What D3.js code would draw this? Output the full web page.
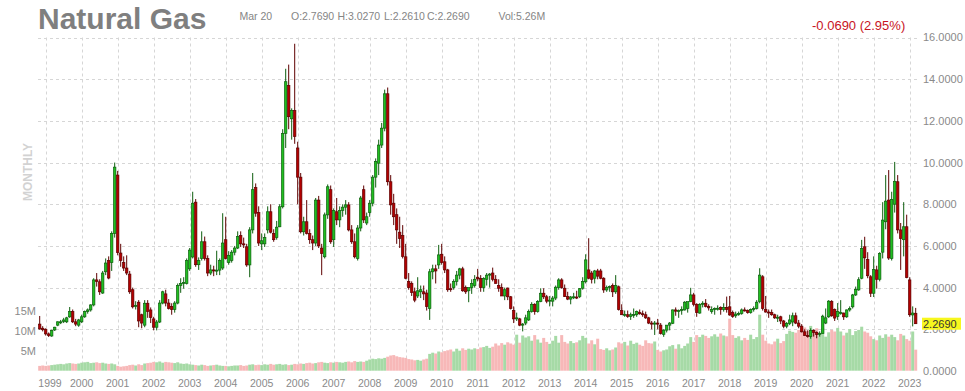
<!DOCTYPE html>
<html>
<head>
<meta charset="utf-8">
<script src="https://cdn.jsdelivr.net/npm/d3@7"></script>
<style>
  html, body { margin: 0; padding: 0; background: #fff; }
  svg text { font-family: "Liberation Sans", Arial, sans-serif; }
</style>
</head>
<body>
<div id="chart"></div>
<script>

// monthly candles, first one is Nov 1998
var startYear = 1998, startMonth = 10;

var opens = [
  2.25, 2.05,
  2.00, 1.78, 1.68, 1.97, 2.20, 2.34, 2.38, 2.36, 2.60, 2.85, 2.36, 2.20,
  2.36, 2.60, 2.85, 2.93, 3.17, 4.37, 4.28, 3.74, 4.76, 5.30, 5.20, 6.60,
  9.40, 5.66, 5.20, 4.94, 4.65, 3.90, 3.10, 3.30, 2.70, 2.20, 3.25, 2.93,
  2.50, 2.10, 2.35, 3.26, 3.70, 3.26, 3.10, 2.95, 3.26, 4.10, 4.20, 4.20,
  4.90, 5.47, 8.10, 5.10, 5.40, 6.20, 5.40, 4.70, 4.85, 4.80, 4.84, 4.94,
  6.30, 5.20, 5.30, 5.70, 5.90, 6.50, 6.10, 5.96, 5.09, 6.77, 8.80, 7.60,
  6.10, 6.10, 6.77, 7.64, 6.60, 6.40, 6.92, 7.88, 11.40, 13.70, 12.10, 12.50,
  10.70, 9.30, 6.68, 7.16, 6.60, 6.30, 6.14, 8.20, 5.90, 5.48, 7.49, 8.70,
  6.30, 7.64, 7.25, 7.70, 7.86, 7.97, 6.77, 6.20, 5.40, 6.86, 8.70, 7.10,
  7.60, 8.05, 9.30, 9.97, 10.84, 11.65, 13.30, 9.08, 8.05, 7.50, 6.66, 6.50,
  5.48, 4.30, 4.20, 3.80, 3.60, 3.80, 3.80, 3.74, 3.00, 4.76, 4.90, 5.09,
  5.60, 5.24, 4.85, 3.95, 4.00, 4.30, 4.60, 4.90, 4.00, 3.85, 4.00, 4.10,
  4.50, 4.44, 4.00, 4.40, 4.60, 4.70, 4.40, 4.10, 4.00, 3.60, 3.98, 3.56,
  2.90, 2.50, 2.50, 2.20, 2.30, 2.45, 2.85, 3.20, 2.85, 3.33, 3.73, 3.56,
  3.35, 3.35, 3.50, 4.00, 4.37, 3.97, 3.57, 3.45, 3.55, 3.55, 3.57, 3.97,
  4.28, 4.85, 4.70, 4.45, 4.80, 4.80, 4.45, 3.89, 4.00, 4.10, 3.80, 4.04,
  2.90, 2.70, 2.70, 2.62, 2.70, 2.70, 2.80, 2.75, 2.70, 2.55, 2.30, 2.25,
  2.30, 2.20, 1.76, 1.96, 2.20, 2.29, 2.93, 2.87, 2.90, 2.93, 3.00, 3.33,
  3.65, 3.20, 2.78, 3.20, 3.25, 3.10, 2.85, 2.95, 3.00, 3.05, 2.95, 3.05,
  3.08, 2.80, 2.65, 2.73, 2.76, 2.93, 2.90, 2.80, 2.95, 3.00, 3.33, 4.52,
  2.95, 2.83, 2.80, 2.70, 2.55, 2.60, 2.40, 2.15, 2.28, 2.35, 2.65, 2.30,
  2.15, 1.88, 1.70, 1.65, 1.95, 1.85, 1.75, 1.80, 2.30, 2.60, 3.33, 2.95,
  2.62, 2.78, 2.78, 2.60, 2.93, 3.08, 3.65, 3.89, 4.45, 5.96, 5.35, 4.52,
  3.73, 4.85, 4.40, 5.70, 7.16, 8.20, 5.40, 8.00, 9.08, 6.77, 6.30, 6.92,
  4.37, 2.69, 2.769
];

var highs = [
  2.64, 2.15,
  2.05, 1.85, 1.98, 2.12, 2.38, 2.45, 2.55, 2.60, 3.07, 2.95, 2.50, 2.50,
  2.70, 2.90, 3.00, 3.20, 4.45, 4.70, 4.40, 4.80, 5.40, 5.50, 6.70, 10.00,
  9.60, 6.10, 5.50, 5.55, 4.80, 4.00, 3.35, 3.40, 2.75, 3.40, 3.40, 3.05,
  2.60, 2.45, 3.40, 3.85, 3.90, 3.45, 3.25, 3.35, 4.20, 4.45, 4.50, 5.40,
  5.90, 8.60, 8.25, 5.45, 6.70, 6.45, 5.55, 5.10, 5.05, 5.77, 5.40, 7.57,
  7.40, 5.75, 5.80, 6.00, 6.70, 6.70, 6.40, 6.10, 6.90, 9.50, 9.00, 7.90,
  6.60, 6.60, 7.90, 8.00, 6.80, 7.20, 8.00, 11.60, 14.50, 14.70, 12.60, 15.70,
  11.00, 9.50, 7.40, 8.20, 6.80, 6.50, 8.30, 8.40, 6.10, 7.60, 8.95, 8.90,
  7.80, 8.30, 7.90, 8.00, 8.20, 8.10, 7.00, 6.60, 7.00, 8.40, 8.90, 7.60,
  8.20, 9.40, 10.20, 11.10, 11.90, 13.50, 13.60, 9.40, 8.50, 7.80, 7.40, 7.00,
  6.10, 4.70, 4.30, 4.00, 4.50, 4.10, 4.10, 3.90, 4.90, 5.10, 5.10, 6.05,
  6.10, 5.50, 4.90, 4.20, 4.40, 4.80, 4.95, 5.00, 4.10, 4.00, 4.40, 4.60,
  4.90, 4.60, 4.50, 4.70, 4.70, 4.96, 4.60, 4.40, 4.20, 4.00, 4.00, 3.60,
  3.10, 2.80, 2.55, 2.30, 2.70, 2.95, 3.30, 3.25, 3.40, 3.97, 3.97, 3.65,
  3.60, 3.60, 4.10, 4.45, 4.45, 4.15, 3.80, 3.60, 3.75, 3.85, 3.97, 4.50,
  5.60, 6.37, 4.80, 4.85, 4.90, 4.90, 4.50, 4.10, 4.10, 4.20, 4.60, 4.10,
  3.20, 2.90, 2.90, 2.80, 3.00, 2.90, 2.95, 2.90, 2.85, 2.60, 2.40, 2.40,
  2.50, 2.30, 2.00, 2.20, 2.35, 2.95, 3.05, 2.95, 3.10, 3.35, 3.30, 3.99,
  3.75, 3.25, 3.25, 3.35, 3.45, 3.20, 3.10, 3.05, 3.15, 3.10, 3.25, 3.57,
  3.60, 2.90, 2.85, 2.85, 3.00, 3.05, 2.95, 3.00, 3.10, 3.40, 4.93, 4.60,
  3.60, 2.95, 2.95, 2.75, 2.70, 2.65, 2.45, 2.35, 2.70, 2.80, 2.80, 2.45,
  2.25, 2.00, 1.95, 2.05, 2.00, 1.90, 1.90, 2.70, 3.00, 3.40, 3.40, 3.00,
  3.26, 3.40, 2.80, 2.95, 3.10, 3.70, 4.05, 4.50, 6.29, 6.44, 5.70, 4.60,
  5.50, 5.05, 5.70, 8.10, 9.40, 9.64, 8.60, 10.03, 9.40, 7.10, 8.10, 7.50,
  4.50, 3.10, 3.027
];

var lows = [
  1.98, 1.90,
  1.70, 1.63, 1.64, 1.92, 2.15, 2.25, 2.30, 2.30, 2.55, 2.30, 2.15, 2.12,
  2.30, 2.55, 2.75, 2.85, 3.10, 4.05, 3.65, 3.70, 4.60, 4.40, 4.80, 6.40,
  5.55, 5.00, 4.80, 4.60, 3.70, 3.00, 2.95, 2.10, 2.05, 2.10, 2.55, 2.30,
  1.95, 1.95, 2.30, 3.20, 3.10, 2.95, 2.70, 2.80, 3.20, 3.75, 3.95, 4.15,
  4.80, 5.40, 5.00, 4.85, 5.30, 5.30, 4.55, 4.60, 4.55, 4.60, 4.60, 4.85,
  5.35, 5.10, 5.20, 5.55, 5.85, 5.95, 5.90, 5.00, 4.50, 6.60, 7.40, 6.00,
  5.80, 5.95, 6.60, 6.60, 6.20, 6.30, 6.90, 7.80, 10.70, 11.60, 11.10, 10.90,
  8.00, 6.60, 6.50, 6.55, 6.10, 5.80, 6.00, 5.90, 4.60, 5.40, 7.30, 6.10,
  5.95, 7.00, 6.90, 7.40, 7.50, 6.70, 6.10, 5.40, 5.30, 6.70, 7.10, 7.00,
  7.40, 7.90, 8.80, 9.40, 10.70, 11.50, 8.90, 7.50, 7.00, 6.10, 5.90, 5.40,
  4.40, 3.90, 3.60, 3.30, 3.50, 3.50, 3.40, 2.90, 2.45, 4.40, 4.20, 4.90,
  5.10, 4.70, 3.80, 3.80, 3.90, 4.10, 4.40, 3.80, 3.70, 3.30, 3.70, 4.00,
  4.30, 3.80, 3.80, 4.10, 4.00, 4.30, 4.20, 3.80, 3.60, 3.40, 3.40, 2.95,
  2.30, 2.40, 2.15, 1.90, 2.20, 2.40, 2.80, 2.70, 2.80, 3.30, 3.45, 3.25,
  3.10, 3.10, 3.40, 3.90, 3.95, 3.55, 3.40, 3.20, 3.45, 3.45, 3.50, 3.90,
  4.20, 4.40, 4.20, 4.20, 4.40, 4.40, 3.75, 3.80, 3.80, 3.55, 3.70, 2.90,
  2.70, 2.60, 2.55, 2.45, 2.55, 2.60, 2.70, 2.60, 2.50, 2.25, 2.00, 1.73,
  2.00, 1.75, 1.64, 1.85, 1.95, 2.25, 2.65, 2.55, 2.70, 2.90, 2.80, 3.30,
  3.10, 2.60, 2.75, 3.05, 3.05, 2.90, 2.75, 2.70, 2.90, 2.70, 2.85, 2.80,
  2.65, 2.55, 2.55, 2.65, 2.70, 2.85, 2.75, 2.75, 2.85, 2.95, 3.25, 2.90,
  2.80, 2.55, 2.65, 2.50, 2.35, 2.25, 2.05, 2.05, 2.20, 2.15, 2.25, 2.05,
  1.85, 1.70, 1.60, 1.55, 1.65, 1.57, 1.65, 1.80, 2.25, 2.55, 2.60, 2.40,
  2.45, 2.70, 2.45, 2.55, 2.85, 3.00, 3.60, 3.85, 4.40, 4.90, 4.45, 3.55,
  3.55, 3.95, 4.30, 5.40, 6.80, 5.33, 5.30, 7.60, 6.60, 4.85, 5.50, 4.45,
  2.60, 2.14, 2.261
];

var closes = [
  2.02, 1.98,
  1.78, 1.70, 1.95, 2.10, 2.36, 2.36, 2.45, 2.55, 2.85, 2.36, 2.25, 2.45,
  2.60, 2.85, 2.93, 3.17, 4.37, 4.30, 3.80, 4.70, 5.18, 4.46, 6.60, 9.78,
  5.68, 5.30, 4.94, 4.70, 3.80, 3.08, 3.15, 2.40, 2.30, 3.25, 2.86, 2.57,
  2.10, 2.35, 3.26, 3.80, 3.26, 3.00, 2.95, 3.26, 4.10, 4.20, 4.25, 5.30,
  5.80, 8.05, 5.10, 5.30, 6.20, 5.40, 4.70, 4.85, 4.80, 4.84, 5.30, 6.14,
  5.40, 5.55, 5.70, 5.90, 6.45, 6.10, 6.05, 5.09, 6.77, 8.70, 7.57, 6.14,
  6.25, 6.40, 7.64, 6.66, 6.30, 6.90, 7.88, 11.40, 13.88, 12.20, 12.50, 11.25,
  9.30, 6.68, 7.16, 6.60, 6.30, 6.14, 8.20, 6.00, 5.64, 7.49, 8.84, 6.20,
  7.70, 7.25, 7.70, 7.86, 7.97, 6.77, 6.20, 5.48, 6.86, 8.30, 7.25, 7.40,
  8.05, 9.30, 10.05, 10.84, 11.65, 13.30, 9.08, 7.97, 7.40, 6.77, 6.36, 5.50,
  4.45, 4.00, 3.76, 3.40, 3.85, 3.90, 3.70, 3.09, 4.76, 4.90, 4.80, 5.57,
  5.20, 4.85, 3.90, 3.92, 4.30, 4.60, 4.90, 3.85, 3.80, 4.00, 4.20, 4.40,
  4.42, 4.00, 4.44, 4.60, 4.65, 4.40, 4.20, 3.97, 3.60, 3.90, 3.56, 3.00,
  2.50, 2.55, 2.20, 2.25, 2.55, 2.85, 3.20, 2.85, 3.33, 3.73, 3.56, 3.35,
  3.40, 3.50, 4.02, 4.37, 4.00, 3.57, 3.45, 3.55, 3.56, 3.50, 3.95, 4.30,
  5.33, 4.45, 4.40, 4.80, 4.55, 4.45, 3.89, 4.00, 4.05, 3.80, 4.10, 2.95,
  2.70, 2.72, 2.62, 2.70, 2.71, 2.85, 2.75, 2.70, 2.55, 2.30, 2.25, 2.30,
  2.25, 1.80, 1.96, 2.20, 2.30, 2.93, 2.87, 2.90, 2.95, 3.30, 3.33, 3.65,
  3.20, 2.80, 3.20, 3.25, 3.10, 3.03, 2.95, 3.00, 3.01, 2.95, 3.05, 2.95,
  2.69, 2.62, 2.73, 2.76, 2.93, 2.92, 2.80, 2.95, 3.00, 3.30, 4.60, 3.00,
  2.83, 2.81, 2.70, 2.55, 2.58, 2.40, 2.15, 2.28, 2.45, 2.65, 2.30, 2.15,
  1.88, 1.70, 1.65, 1.95, 1.85, 1.75, 1.80, 2.63, 2.55, 3.35, 2.65, 2.54,
  2.85, 2.80, 2.60, 2.93, 3.00, 3.65, 3.91, 4.38, 5.87, 5.43, 4.57, 3.73,
  4.87, 4.40, 5.64, 7.24, 8.15, 5.42, 8.23, 9.10, 6.77, 6.36, 6.92, 4.48,
  2.70, 2.78, 2.269
];

// volume in millions
var volumes = [
  1.2, 1.3,
  1.2, 1.3, 1.4, 1.5, 1.6, 1.7, 1.6, 1.8, 1.9, 1.8, 1.7, 1.8,
  2.0, 2.1, 2.2, 1.9, 2.0, 2.1, 1.9, 2.0, 1.8, 1.7, 1.8, 1.6,
  1.2, 1.0, 1.1, 1.2, 1.4, 1.5, 1.3, 1.6, 1.4, 1.8, 1.9, 2.0,
  2.2, 2.1, 2.3, 2.0, 2.2, 2.1, 2.0, 1.9, 2.1, 1.8, 1.7, 1.8,
  1.6, 1.5, 1.4, 1.3, 1.5, 1.4, 1.2, 1.3, 1.4, 1.5, 1.3, 1.2,
  1.2, 1.1, 1.2, 1.3, 1.3, 1.4, 1.2, 1.3, 1.5, 1.6, 1.4, 1.5,
  1.4, 1.6, 1.5, 1.7, 1.5, 1.6, 1.7, 1.5, 1.6, 1.4, 1.5, 1.7,
  1.6, 1.8, 1.7, 1.9, 2.0, 1.8, 1.9, 2.1, 2.2, 2.0, 1.9, 2.1,
  2.0, 2.2, 2.1, 2.0, 2.2, 2.3, 2.1, 2.4, 2.2, 2.3, 2.2, 2.5,
  2.8, 3.0, 2.9, 3.1, 3.0, 3.2, 3.5, 3.8, 3.9, 3.6, 3.4, 3.3,
  3.2, 2.9, 2.8, 2.6, 2.7, 2.5, 2.8, 3.0, 4.2, 4.5, 4.3, 4.8,
  4.6, 4.9, 5.1, 5.3, 4.8, 5.5, 5.0, 5.6, 5.2, 5.5, 5.3, 5.6,
  5.4, 5.8, 5.9, 6.2, 5.7, 6.0, 6.8, 6.3, 6.9, 6.5, 7.1, 6.8,
  6.5, 9.0, 7.0, 8.8, 8.3, 8.6, 7.5, 8.9, 7.8, 7.0, 8.2, 7.2,
  6.7, 7.5, 8.7, 7.0, 8.9, 7.2, 6.8, 7.4, 6.9, 7.1, 7.6, 8.7,
  8.2, 6.8, 7.6, 6.6, 8.0, 5.4, 5.2, 5.6, 5.1, 5.3, 5.8, 7.1,
  6.8, 7.2, 6.3, 7.5, 6.7, 7.0, 6.5, 6.2, 7.6, 6.9, 6.8, 7.3,
  5.2, 4.8, 5.1, 5.3, 6.1, 6.4, 5.5, 6.6, 5.6, 6.2, 6.8, 8.4,
  7.2, 8.9, 8.4, 9.0, 8.7, 8.2, 8.6, 9.1, 8.5, 9.3, 8.8, 8.6,
  13.0, 8.9, 8.2, 8.6, 7.6, 8.2, 7.7, 9.0, 7.9, 8.4, 14.0, 9.0,
  7.5, 6.8, 6.6, 7.3, 8.0, 6.9, 7.4, 9.2, 10.0, 9.7, 9.5, 10.2,
  10.5, 10.8, 10.0, 11.2, 9.8, 10.6, 8.9, 10.7, 8.5, 9.6, 10.2, 9.8,
  10.7, 9.8, 8.8, 9.5, 10.4, 8.9, 9.9, 10.2, 11.0, 9.8, 9.5, 8.6,
  7.9, 7.6, 8.8, 8.2, 9.1, 8.5, 9.0, 8.4, 7.6, 9.2, 8.8, 7.9,
  7.5, 9.8, 5.26
];

var priceTicks = [0, 2, 4, 6, 8, 10, 12, 14, 16];
var volumeTicks = [5, 10, 15];
var yearTicks = d3.range(1999, 2024);

var symbolName = 'Natural Gas';
var dateLabel = 'Mar 20';
var dayChange = -0.0690;
var dayChangePct = 2.95;


function getChart(params) {
    // exposed variables
    var attrs = {
        svgWidth: 965,
        svgHeight: 391,
        plotLeft: 38.2,
        plotRight: 917.2,
        gridLeft: 38,
        gridRight: 918,
        priceTop: 37.5,
        priceBottom: 371,
        volumeBottom: 370.7,
        upFill: '#1fbf1f',
        upStroke: '#0e5e0e',
        downFill: '#b30000',
        downStroke: '#5e0000',
        upVolume: '#a6daa6',
        downVolume: '#f7b8b8',
        gridColor: '#d6d6d6',
        textColor: '#8a8a8a',
        data: null
    };

    Object.keys(attrs).forEach(function (key) {
        if (params && params[key]) {
            attrs[key] = params[key];
        }
    });

    var main = function (selection) {
        selection.each(function () {

            var data = attrs.data;

            // scales
            var x = d3.scaleBand()
                .domain(data.map(function (d) { return d.date; }))
                .range([attrs.plotLeft, attrs.plotRight])
                .paddingInner(0.2)
                .paddingOuter(0.1);

            var cx = function (d) { return x(d) + x.bandwidth() / 2; };

            var y = d3.scaleLinear()
                .domain([0, 16])
                .range([attrs.priceBottom, attrs.priceTop]);

            var yVol = d3.scaleLinear()
                .domain([0, 15])
                .range([attrs.volumeBottom, attrs.volumeBottom - 60]);

            var svg = d3.select(this)
                .append('svg')
                .attr('width', attrs.svgWidth)
                .attr('height', attrs.svgHeight);

            svg.append('rect')
                .attr('width', attrs.svgWidth)
                .attr('height', attrs.svgHeight)
                .attr('fill', '#fff');

            /* ############## GRID ############## */

            var grid = svg.append('g');

            grid.selectAll('.hgrid')
                .data(priceTicks.filter(function (t) { return t > 0; }))
                .enter()
                .append('line')
                .attr('x1', attrs.gridLeft)
                .attr('x2', attrs.gridRight)
                .attr('y1', function (t) { return Math.round(y(t)) + 0.5; })
                .attr('y2', function (t) { return Math.round(y(t)) + 0.5; })
                .attr('stroke', attrs.gridColor)
                .attr('stroke-dasharray', '3,3');

            var janDates = yearTicks.map(function (yr) { return new Date(yr, 0, 1); });
            var janKey = function (dt) {
                return data.find(function (d) { return +d.date === +dt; }).date;
            };

            grid.selectAll('.vgrid')
                .data(janDates)
                .enter()
                .append('line')
                .attr('x1', function (dt) { return Math.round(cx(janKey(dt))) + 0.5; })
                .attr('x2', function (dt) { return Math.round(cx(janKey(dt))) + 0.5; })
                .attr('y1', attrs.priceTop)
                .attr('y2', 373)
                .attr('stroke', attrs.gridColor)
                .attr('stroke-dasharray', '3,3');

            /* ############## VOLUME ############## */

            var step = x.step();
            svg.append('g')
                .selectAll('rect')
                .data(data)
                .enter()
                .append('rect')
                .attr('x', function (d) { return cx(d.date) - step / 2; })
                .attr('width', step)
                .attr('y', function (d) { return yVol(d.volume); })
                .attr('height', function (d) { return yVol(0) - yVol(d.volume); })
                .attr('fill', function (d) { return d.close >= d.open ? attrs.upVolume : attrs.downVolume; });

            /* ############## CANDLES ############## */

            var candles = svg.append('g')
                .selectAll('g')
                .data(data)
                .enter()
                .append('g');

            candles.append('line')
                .attr('x1', function (d) { return cx(d.date); })
                .attr('x2', function (d) { return cx(d.date); })
                .attr('y1', function (d) { return y(d.high); })
                .attr('y2', function (d) { return y(d.low); })
                .attr('stroke', function (d) { return d.close >= d.open ? attrs.upStroke : attrs.downStroke; })
                .attr('stroke-width', 1);

            candles.append('rect')
                .attr('x', function (d) { return x(d.date); })
                .attr('width', x.bandwidth())
                .attr('y', function (d) { return y(Math.max(d.open, d.close)); })
                .attr('height', function (d) { return Math.max(1, Math.abs(y(d.open) - y(d.close))); })
                .attr('fill', function (d) { return d.close >= d.open ? attrs.upFill : attrs.downFill; })
                .attr('stroke', function (d) { return d.close >= d.open ? attrs.upStroke : attrs.downStroke; })
                .attr('stroke-width', 0.7);

            /* ############## AXES ############## */

            // plain hyphen for negatives, like the source widget
            var fmt = function (v) { return v.toFixed(4); };

            svg.append('g')
                .selectAll('text')
                .data(priceTicks)
                .enter()
                .append('text')
                .attr('x', 923)
                .attr('y', function (t) { return y(t); })
                .attr('dy', '0.36em')
                .attr('font-size', 11)
                .attr('fill', attrs.textColor)
                .text(function (t) { return fmt(t); });

            svg.append('g')
                .selectAll('text')
                .data(volumeTicks)
                .enter()
                .append('text')
                .attr('x', 36)
                .attr('y', function (t) { return yVol(t); })
                .attr('dy', '0.36em')
                .attr('text-anchor', 'end')
                .attr('font-size', 11)
                .attr('fill', attrs.textColor)
                .text(function (t) { return t + 'M'; });

            svg.append('g')
                .selectAll('text')
                .data(janDates)
                .enter()
                .append('text')
                .attr('x', function (dt) { return Math.max(cx(janKey(dt)), 50); })
                .attr('y', 387)
                .attr('text-anchor', 'middle')
                .attr('font-size', 10.5)
                .attr('fill', attrs.textColor)
                .text(function (dt) { return dt.getFullYear(); });

            // last price tag
            var last = data[data.length - 1];
            svg.append('rect')
                .attr('x', 922)
                .attr('y', y(last.close) - 6)
                .attr('width', 39)
                .attr('height', 12)
                .attr('fill', '#f7f71e');

            svg.append('text')
                .attr('x', 923)
                .attr('y', y(last.close))
                .attr('dy', '0.36em')
                .attr('font-size', 11)
                .attr('fill', '#333')
                .text(fmt(last.close));

            svg.append('text')
                .attr('transform', 'translate(32,172) rotate(-90)')
                .attr('text-anchor', 'middle')
                .attr('font-size', 12)
                .attr('font-weight', 'bold')
                .attr('fill', '#d2d2d2')
                .text('MONTHLY');

            /* ############## HEADER ############## */

            svg.append('text')
                .attr('x', 38)
                .attr('y', 28.5)
                .attr('font-size', 30)
                .attr('font-weight', 'bold')
                .attr('fill', '#7f7f7f')
                .text(symbolName);

            var info = [
                { x: 239.5, t: dateLabel },
                { x: 291, t: 'O:' + fmt(last.open) },
                { x: 337.5, t: 'H:' + fmt(last.high) },
                { x: 384, t: 'L:' + fmt(last.low) },
                { x: 427, t: 'C:' + fmt(last.close) },
                { x: 498.5, t: 'Vol:' + last.volume.toFixed(2) + 'M' }
            ];

            svg.append('g')
                .selectAll('text')
                .data(info)
                .enter()
                .append('text')
                .attr('x', function (d) { return d.x; })
                .attr('y', 20)
                .attr('font-size', 10.5)
                .attr('fill', '#858585')
                .text(function (d) { return d.t; });

            svg.append('text')
                .attr('x', 812)
                .attr('y', 30)
                .attr('font-size', 13)
                .attr('fill', '#c8141e')
                .text(fmt(dayChange) + ' (' + dayChangePct.toFixed(2) + '%)');

        });
    };

    main.data = function (value) {
        if (!arguments.length) return attrs.data;
        attrs.data = value;
        return main;
    };

    return main;
}


var candleData = opens.map(function (o, i) {
    return {
        date: new Date(startYear, startMonth + i, 1),
        open: o,
        high: highs[i],
        low: lows[i],
        close: closes[i],
        volume: volumes[i]
    };
});

var chart = getChart().data(candleData);
d3.select('#chart').call(chart);

</script>
</body>
</html>
